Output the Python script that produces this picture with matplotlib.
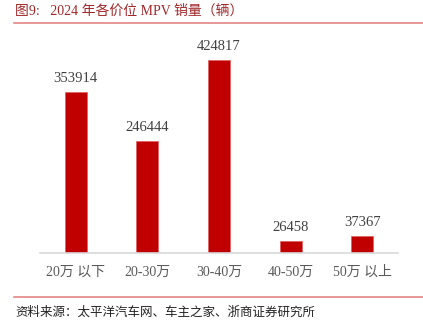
import matplotlib.pyplot as plt
from matplotlib.lines import Line2D

categories = ['20万 以下', '20-30万', '30-40万', '40-50万', '50万 以上']
sales = [353914, 246444, 424817, 26458, 37367]

title = '图9:   2024 年各价位 MPV 销量（辆）'
source = '资料来源：太平洋汽车网、车主之家、浙商证券研究所'

W, H = 423, 329
fig = plt.figure(figsize=(W / 100, H / 100), dpi=100)

serif_cjk = ['Liberation Serif', 'Noto Sans CJK SC']

# axes: x from 40 to 398 px, baseline at y=253 px, top at 26 px
ax = fig.add_axes([40 / W, (H - 253) / H, 358 / W, (253 - 26) / H])
x = range(len(categories))
ax.bar(x, sales, width=0.31, color='#C00000', edgecolor='#E06060', linewidth=0.5, zorder=2)
ax.set_xlim(-0.5, 4.5)
ax.set_ylim(0, 500000)

for i, v in enumerate(sales):
    ax.annotate(str(v), (i, v), xytext=(0, 5), textcoords='offset points',
                ha='center', va='bottom', fontsize=10.5, color='#404040',
                family=serif_cjk)

for s in ['top', 'right', 'left']:
    ax.spines[s].set_visible(False)
ax.spines['bottom'].set_color('#D9D9D9')
ax.spines['bottom'].set_linewidth(1.2)
ax.set_yticks([])
ax.set_xticks(list(x))
ax.set_xticklabels(categories, fontsize=10, color='#595959', family=serif_cjk)
ax.tick_params(axis='x', length=0, pad=9)

# title and separator lines
fig.text(15 / W, 1 - 11 / H, title, fontsize=10, color='#A0282A',
         family=serif_cjk, va='center', ha='left')
fig.add_artist(Line2D([14 / W, 1], [1 - 22.5 / H] * 2, color='#E08585', linewidth=1.2))
fig.add_artist(Line2D([14 / W, 1], [1 - 297 / H] * 2, color='#E08585', linewidth=1.2))
fig.text(15 / W, 1 - 312 / H, source, fontsize=9, color='#222222',
         family=['Noto Sans CJK SC', 'DejaVu Sans'], va='center', ha='left')

fig.savefig('out.png', dpi=100)
